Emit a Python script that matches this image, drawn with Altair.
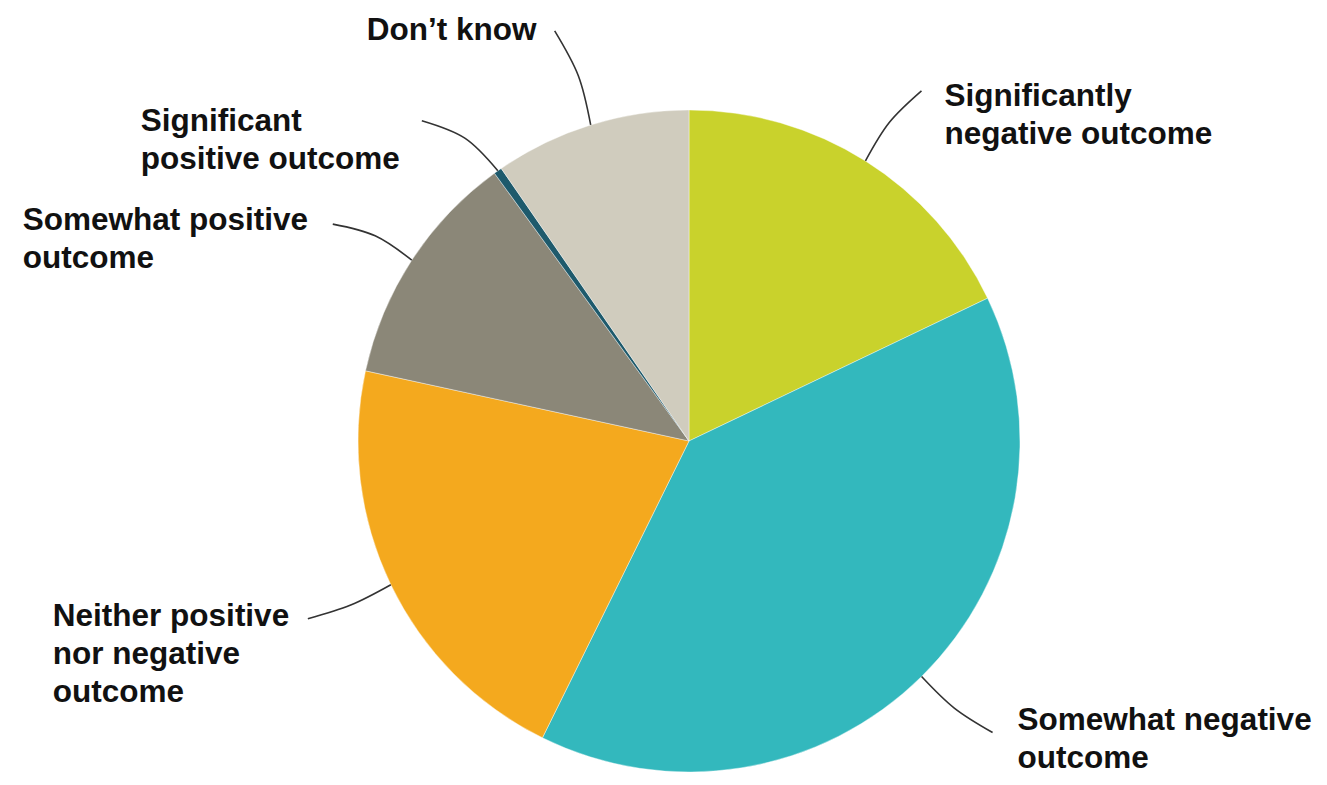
import altair as alt
import pandas as pd
import numpy as np

# ---- data ----
categories = [
    "Significantly negative outcome",
    "Somewhat negative outcome",
    "Neither positive nor negative outcome",
    "Somewhat positive outcome",
    "Significant positive outcome",
    "Don't know",
]
values = [17.9, 39.4, 21.1, 11.6, 0.4, 9.6]
label_lines = [
    "Significantly\nnegative outcome",
    "Somewhat negative\noutcome",
    "Neither positive\nnor negative\noutcome",
    "Somewhat positive\noutcome",
    "Significant\npositive outcome",
    "Don\u2019t know",
]
colors = ["#C9D22C", "#33B8BD", "#F4A91E", "#8B8778", "#1E5A6C", "#D0CCBE"]

# ---- layout (style) ----
W, H = 1311, 769
CX, CY, R = 681, 433, 331
# leader line end offset from slice edge (dx, dy) and curvature
leader_end = [(56, -70), (71, 56), (-83, 34), (-79, -36), (-76, -50), (-36, -94)]
leader_bend = [-0.06, 0.05, -0.04, 0.08, 0.10, 0.06]
# label anchor (left x, first baseline) offset from leader end
label_off = [(23, 15), (25, -3), (-255, 7), (-310, 6), (-281, 10), (-188, 9)]

df = pd.DataFrame({"category": categories, "value": values, "idx": list(range(len(values)))})

total = float(np.sum(values))
cum = np.cumsum([0.0] + values[:-1])
mid = (cum + np.array(values) / 2.0) / total * 2 * np.pi

line_rows = []
label_rows = []
for i, cat in enumerate(categories):
    sx = CX + R * np.sin(mid[i])
    sy = CY - R * np.cos(mid[i])
    dx, dy = leader_end[i]
    ex, ey = sx + dx, sy + dy
    b = leader_bend[i]
    mx = sx + dx / 2 + b * (-dy)
    my = sy + dy / 2 + b * dx
    for k, (px, py) in enumerate([(sx, sy), (mx, my), (ex, ey)]):
        line_rows.append({"category": cat, "k": k, "px": px, "py": py})
    lx, ly = label_off[i]
    label_rows.append({"category": cat, "text": label_lines[i], "px": ex + lx, "py": ey + ly})

lines_df = pd.DataFrame(line_rows)
labels_df = pd.DataFrame(label_rows)

pie = alt.Chart(df).mark_arc(radius=R, stroke="white", strokeWidth=0.4).encode(
    theta=alt.Theta("value:Q", stack=True),
    color=alt.Color("category:N", scale=alt.Scale(domain=categories, range=colors), legend=None),
    order=alt.Order("idx:Q"),
    x=alt.value(CX),
    y=alt.value(CY),
)

leaders = alt.Chart(lines_df).mark_line(
    color="#333333", strokeWidth=1.6, interpolate="catmull-rom"
).encode(
    x=alt.X("px:Q", scale=None, axis=None),
    y=alt.Y("py:Q", scale=None, axis=None),
    detail="category:N",
    order="k:Q",
)

labels = alt.Chart(labels_df).mark_text(
    align="left",
    baseline="alphabetic",
    lineBreak="\n",
    lineHeight=38,
    font="Liberation Sans",
    fontWeight="bold",
    fontSize=31.5,
    color="#111111",
).encode(
    x=alt.X("px:Q", scale=None, axis=None),
    y=alt.Y("py:Q", scale=None, axis=None),
    text="text:N",
)

chart = alt.layer(pie, leaders, labels).properties(
    width=W, height=H, autosize=alt.AutoSizeParams(type="none"), padding=0
).configure(background="white", view=alt.ViewConfig(stroke=None))

chart.save("out.html", embed_options={"renderer": "svg", "actions": False})
